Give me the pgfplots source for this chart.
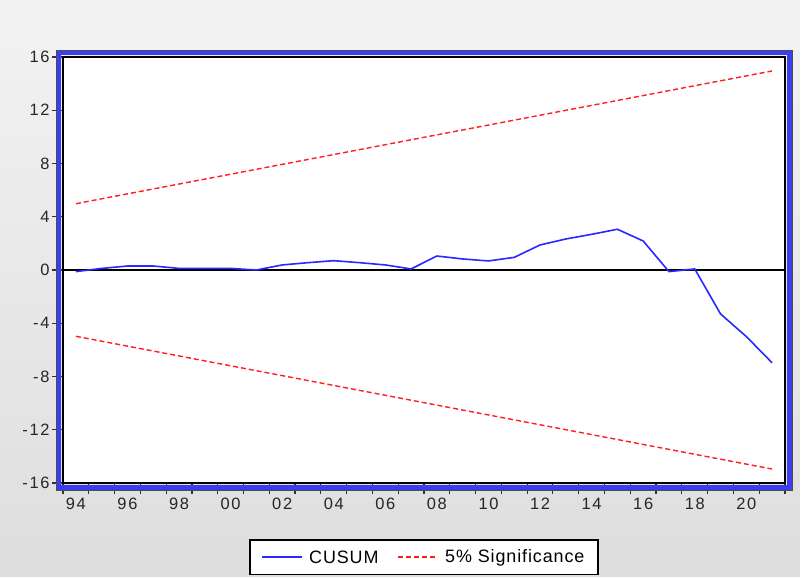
\documentclass[border=0pt]{standalone}
\usepackage{pgfplots}
\pgfplotsset{compat=1.18}
\usepackage{fontspec}
\setmainfont{Liberation Sans}
\newfontfamily\tickfont[LetterSpace=10]{Liberation Sans}
\newfontfamily\legfont[LetterSpace=5]{Liberation Sans}
\definecolor{frameblue}{RGB}{60,60,245}
\definecolor{cusumblue}{RGB}{40,40,255}
\definecolor{sigred}{RGB}{255,30,30}
\begin{document}
\begin{tikzpicture}
\shade[top color=black!5, bottom color=black!13] (0bp,0bp) rectangle (800bp,577bp);
\path[use as bounding box] (0bp,0bp) rectangle (800bp,577bp);
\begin{axis}[
  name=ax,
  at={(63bp,94bp)}, anchor=south west,
  scale only axis, width=722bp, height=426bp,
  xmin=1993.5, xmax=2021.5, ymin=-16, ymax=16,
  axis background/.style={fill=white},
  axis line style={black, line width=2.2bp},
  xtick={1994,1996,...,2020},
  xticklabels={94,96,98,00,02,04,06,08,10,12,14,16,18,20},
  minor xtick={1993.5,1994.5,...,2021.5},
  ytick={-16,-12,...,16},
  yticklabels={-16,-12,-8,-4,0,4,8,12,16},
  xtick pos=bottom, ytick pos=left,
  tick align=outside,
  major tick length=11bp, minor tick length=11bp,
  major x tick style={draw=none},
  minor x tick style={black!80, line width=1.2bp},
  major y tick style={black!80, line width=1.2bp},
  ticklabel style={font=\tickfont\fontsize{16.5}{17}\selectfont, text=black!85},
  yticklabel style={xshift=1bp},
  xticklabel style={yshift=-1bp},
  clip=false,
]
\addplot[black, line width=1.3bp] coordinates {(1993.5,0) (2021.5,0)};
\addplot[draw=cusumblue, line width=1.6bp] coordinates {
(1994,-0.12) (1995,0.12) (1996,0.30) (1997,0.30) (1998,0.12) (1999,0.12) (2000,0.12)
(2001,0.00) (2002,0.38) (2003,0.55) (2004,0.70) (2005,0.55) (2006,0.38) (2007,0.08)
(2008,1.05) (2009,0.83) (2010,0.68) (2011,0.95) (2012,1.88) (2013,2.33) (2014,2.68)
(2015,3.06) (2016,2.18) (2017,-0.12) (2018,0.08) (2019,-3.30) (2020,-5.00) (2021,-6.97)
};
\addplot[draw=sigred, line width=1.4bp, dash pattern=on 5bp off 3bp] coordinates {(1994,4.98) (2021,14.95)};
\addplot[draw=sigred, line width=1.4bp, dash pattern=on 5bp off 3bp] coordinates {(1994,-4.98) (2021,-14.95)};
\end{axis}
% frame
\draw[frameblue, line width=4.5bp] ([shift={(-4.3bp,-4.3bp)}]ax.south west) rectangle ([shift={(4.3bp,4.3bp)}]ax.north east);
\draw[black!70, line width=0.9bp] ([shift={(-7bp,-7bp)}]ax.south west) rectangle ([shift={(7bp,7bp)}]ax.north east);
% legend
\draw[black, line width=1.4bp, fill=white] (250bp,2.5bp) rectangle (598bp,37bp);
\draw[cusumblue, line width=1.6bp] (262bp,20bp) -- (302bp,20bp);
\node[anchor=west, inner sep=0pt, font=\legfont\fontsize{18}{18}\selectfont] at (309bp,19.5bp) {CUSUM};
\draw[sigred, line width=1.4bp, dash pattern=on 5bp off 3bp] (398bp,20bp) -- (437bp,20bp);
\node[anchor=west, inner sep=0pt, font=\legfont\fontsize{18}{18}\selectfont] at (445bp,19.5bp) {5\% Significance};
\end{tikzpicture}
\end{document}
